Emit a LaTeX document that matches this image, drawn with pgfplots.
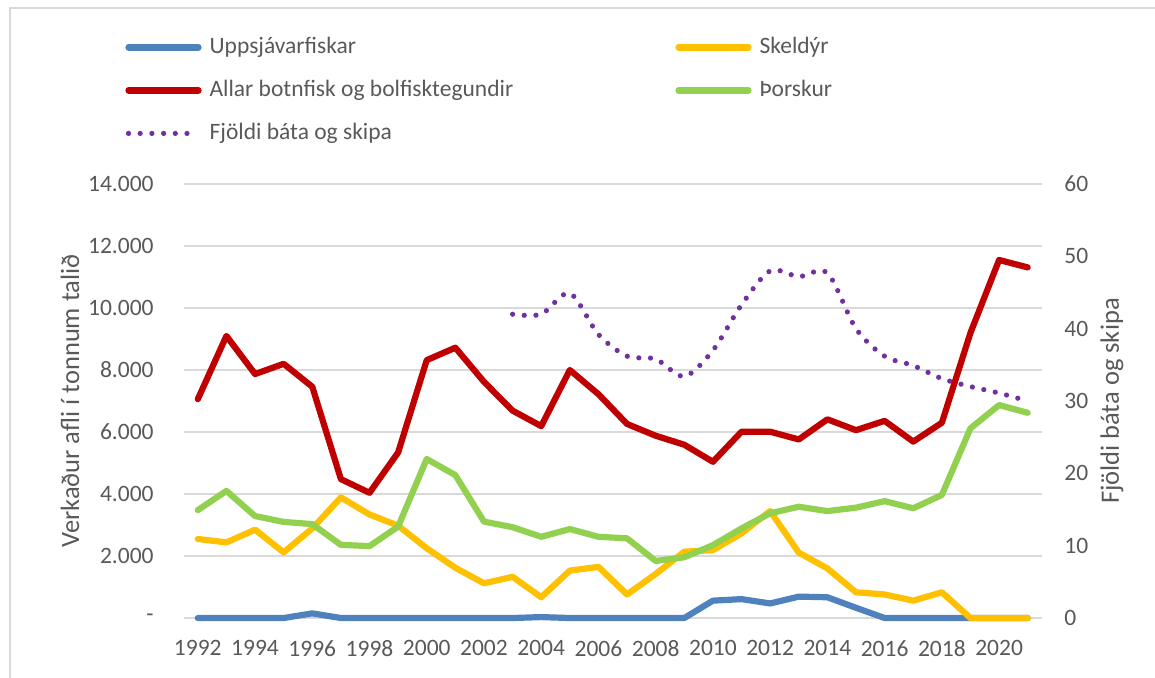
\documentclass[border=0pt]{standalone}
\usepackage{fontspec}
\setmainfont{Carlito}
\usepackage{pgfplots}
\pgfplotsset{compat=1.18}
\definecolor{cblue}{HTML}{4F81BD}
\definecolor{cyellow}{HTML}{FFC000}
\definecolor{cred}{HTML}{C00000}
\definecolor{cgreen}{HTML}{92D050}
\definecolor{cpurple}{HTML}{7030A0}
\definecolor{cgrid}{HTML}{D9D9D9}
\definecolor{ctext}{HTML}{595959}
\pgfplotsset{
  base/.style={
    scale only axis, width=429.25pt, height=217pt,
    at={(91.75pt,-309pt)}, anchor=south west,
    xmin=1991.5, xmax=2021.5,
    clip=false,
    scaled y ticks=false, scaled x ticks=false,
    axis line style={draw=none},
    major tick length=0pt,
    tick label style={font=\fontsize{11.75pt}{14pt}\selectfont, text=ctext, inner sep=0pt},
    /pgf/number format/assume math mode=true,
    legend cell align=left,
    legend style={draw=none, fill=none, inner sep=0pt, row sep=10.5pt, column sep=4pt,
       font=\fontsize{11.75pt}{14pt}\selectfont, text=ctext,
       nodes={inner sep=0pt, text height=8.5pt, text depth=2.5pt}},
    legend image code/.code={\draw[##1] (0pt,0pt) -- (35pt,0pt);},
    every axis plot/.append style={line join=round, line cap=round},
  }
}
\begin{document}
\begin{tikzpicture}
\path[use as bounding box] (0,0) rectangle (577.5pt,-338.5pt);
\draw[cgrid, line width=1pt] (4.75pt,-340pt) -- (4.75pt,-3.75pt) -- (580pt,-3.75pt);
\begin{axis}[base,
  ymin=0, ymax=14000,
  ytick={0,2000,4000,6000,8000,10000,12000,14000},
  yticklabels={-,2.000,4.000,6.000,8.000,10.000,12.000,14.000},
  ymajorgrids, grid style={cgrid, line width=1pt},
  xtick={1992,1994,1996,1998,2000,2002,2004,2006,2008,2010,2012,2014,2016,2018,2020},
  xticklabels={1992,1994,1996,1998,2000,2002,2004,2006,2008,2010,2012,2014,2016,2018,2020},
  yticklabel style={anchor=east, xshift=-14.75pt},
  xticklabel style={anchor=north, yshift=-11pt},
  ylabel={Verkaður afli í tonnum talið},
  every axis y label/.style={at={(axis description cs:-0.1322,0.5)}, rotate=90, anchor=center,
     font=\fontsize{13.25pt}{15pt}\selectfont, text=ctext},
  legend style={at={(0.5725,1.341)}, anchor=north west},
]
\addplot[cblue, line width=3.1pt, forget plot] coordinates {
(1992,0)(1993,0)(1994,0)(1995,0)(1996,150)(1997,0)(1998,0)(1999,0)(2000,0)(2001,0)
(2002,0)(2003,0)(2004,30)(2005,0)(2006,0)(2007,0)(2008,0)(2009,0)(2010,560)(2011,610)
(2012,470)(2013,690)(2014,670)(2015,330)(2016,0)(2017,0)(2018,0)(2019,0)(2020,0)(2021,0)};
\addplot[cyellow, line width=3.1pt] coordinates {
(1992,2550)(1993,2440)(1994,2850)(1995,2120)(1996,2890)(1997,3890)(1998,3340)(1999,2980)
(2000,2250)(2001,1620)(2002,1120)(2003,1330)(2004,670)(2005,1530)(2006,1650)(2007,760)
(2008,1420)(2009,2140)(2010,2190)(2011,2730)(2012,3450)(2013,2110)(2014,1600)(2015,830)
(2016,760)(2017,560)(2018,830)(2019,0)(2020,0)(2021,0)};
\addplot[cred, line width=3.1pt, forget plot] coordinates {
(1992,7060)(1993,9100)(1994,7870)(1995,8200)(1996,7460)(1997,4480)(1998,4040)(1999,5340)
(2000,8320)(2001,8720)(2002,7620)(2003,6690)(2004,6190)(2005,8000)(2006,7220)(2007,6260)
(2008,5880)(2009,5590)(2010,5040)(2011,6010)(2012,6010)(2013,5760)(2014,6410)(2015,6060)
(2016,6360)(2017,5690)(2018,6300)(2019,9200)(2020,11550)(2021,11310)};
\addplot[cgreen, line width=3.1pt] coordinates {
(1992,3480)(1993,4100)(1994,3290)(1995,3100)(1996,3030)(1997,2360)(1998,2320)(1999,2950)
(2000,5130)(2001,4610)(2002,3110)(2003,2930)(2004,2620)(2005,2870)(2006,2620)(2007,2570)
(2008,1840)(2009,1960)(2010,2350)(2011,2890)(2012,3380)(2013,3590)(2014,3450)(2015,3560)
(2016,3770)(2017,3540)(2018,3970)(2019,6120)(2020,6870)(2021,6620)};
\legend{Skeldýr, Þorskur}
\end{axis}
\begin{axis}[base,
  ymin=0, ymax=60, ytick={0,10,20,30,40,50,60},
  yticklabel pos=right,
  hide x axis,
  yticklabel style={anchor=west, xshift=11pt},
  ylabel={Fjöldi báta og skipa},
  every axis y label/.style={at={(axis description cs:1.0815,0.5)}, rotate=90, anchor=center,
     font=\fontsize{13.25pt}{15pt}\selectfont, text=ctext},
  legend style={at={(-0.06814,1.341)}, anchor=north west},
]
\addlegendimage{cblue, line width=3.1pt, line cap=round}
\addlegendimage{cred, line width=3.1pt, line cap=round}
\addplot[cpurple, line width=2.6pt, line cap=round, dash pattern=on 0pt off 5.85pt, smooth] coordinates {
(2003,42)(2004,42)(2005,44.9)(2006,39.2)(2007,36.2)(2008,35.8)(2009,33.4)(2010,37)
(2011,43.3)(2012,48)(2013,47.2)(2014,47.7)(2015,40)(2016,36.2)(2017,34.9)(2018,33.1)
(2019,32)(2020,31.1)(2021,30)};
\legend{Uppsjávarfiskar, Allar botnfisk og bolfisktegundir, Fjöldi báta og skipa}
\end{axis}
\end{tikzpicture}
\end{document}
